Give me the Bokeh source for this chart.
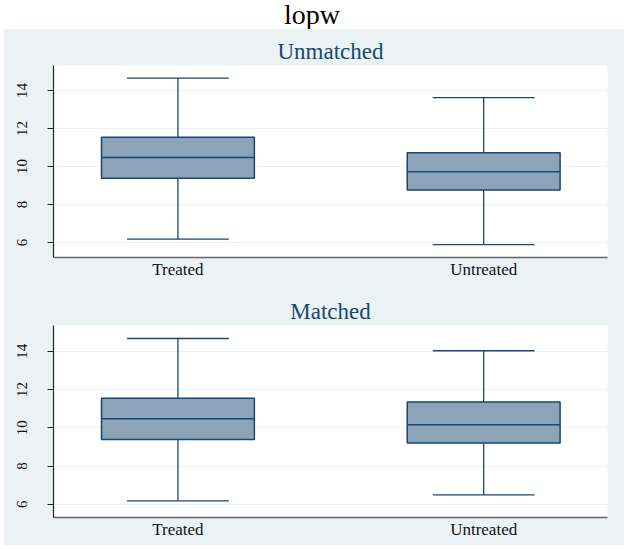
from bokeh.plotting import figure
from bokeh.layouts import column
from bokeh.models import Div, FixedTicker, Range1d, ColumnDataSource
from bokeh.embed import file_html
from bokeh.resources import INLINE

# Box-plot summaries of lopw by treatment group
groups = ["Treated", "Untreated"]
group_pos = [1, 2]

unmatched_upper = [14.66, 13.63]
unmatched_q3 = [11.54, 10.72]
unmatched_median = [10.47, 9.72]
unmatched_q1 = [9.38, 8.77]
unmatched_lower = [6.18, 5.89]

matched_upper = [14.66, 14.02]
matched_q3 = [11.54, 11.34]
matched_median = [10.47, 10.16]
matched_q1 = [9.38, 9.20]
matched_lower = [6.18, 6.49]

y_ticks = [6, 8, 10, 12, 14]

BG = "#EAF2F3"
NAVY = "#1A476F"
BOX_FILL = "#8DA3B8"
SERIF = "Liberation Serif"
BOX_W = 0.5
CAP_W = 0.333


def box_panel(title, upper, q3, median, q1, lower, height, top, bottom, y_range):
    p = figure(width=620, height=height, output_backend="svg", toolbar_location=None,
               x_range=Range1d(0.593, 2.405), y_range=Range1d(*y_range),
               min_border_left=49, min_border_right=17,
               min_border_top=top, min_border_bottom=bottom,
               title=title)
    p.margin = (0, 0, 0, 0)
    p.background_fill_color = "white"
    p.border_fill_color = BG
    p.outline_line_color = None

    p.title.align = "center"
    p.title.text_font = SERIF
    p.title.text_font_size = "23px"
    p.title.text_font_style = "normal"
    p.title.text_color = NAVY
    p.title.standoff = 3

    src = ColumnDataSource(dict(
        x=group_pos,
        upper=upper, q3=q3, median=median, q1=q1, lower=lower,
        x0=[x - BOX_W / 2 for x in group_pos],
        x1=[x + BOX_W / 2 for x in group_pos],
        c0=[x - CAP_W / 2 for x in group_pos],
        c1=[x + CAP_W / 2 for x in group_pos],
    ))

    # whiskers
    p.segment(x0="x", y0="q3", x1="x", y1="upper", source=src, line_color=NAVY, line_width=1.3)
    p.segment(x0="x", y0="lower", x1="x", y1="q1", source=src, line_color=NAVY, line_width=1.3)
    # caps
    p.segment(x0="c0", y0="upper", x1="c1", y1="upper", source=src, line_color=NAVY, line_width=1.3)
    p.segment(x0="c0", y0="lower", x1="c1", y1="lower", source=src, line_color=NAVY, line_width=1.3)
    # boxes
    p.quad(left="x0", right="x1", bottom="q1", top="q3", source=src,
           fill_color=BOX_FILL, line_color=NAVY, line_width=1.5)
    # medians
    p.segment(x0="x0", y0="median", x1="x1", y1="median", source=src, line_color=NAVY, line_width=1.5)

    # y axis
    p.yaxis.ticker = FixedTicker(ticks=y_ticks)
    p.yaxis.major_label_orientation = "vertical"
    p.yaxis.major_label_text_font = SERIF
    p.yaxis.major_label_text_font_size = "15px"
    p.yaxis.major_label_text_color = "#111111"
    p.yaxis.major_label_standoff = 20
    p.yaxis.major_tick_out = 6
    p.yaxis.major_tick_in = 0
    p.yaxis.minor_tick_line_color = None
    p.yaxis.axis_line_color = "#222222"
    p.yaxis.major_tick_line_color = "#222222"
    p.yaxis.axis_line_width = 1.2

    # x axis
    p.xaxis.ticker = FixedTicker(ticks=group_pos)
    p.xaxis.major_label_overrides = {x: g for x, g in zip(group_pos, groups)}
    p.xaxis.major_label_text_font = SERIF
    p.xaxis.major_label_text_font_size = "17px"
    p.xaxis.major_label_text_color = "#111111"
    p.xaxis.major_label_standoff = 2
    p.xaxis.major_tick_out = 0
    p.xaxis.major_tick_in = 0
    p.xaxis.major_tick_line_color = None
    p.xaxis.minor_tick_line_color = None
    p.xaxis.axis_line_color = "#666666"
    p.xaxis.axis_line_width = 1.5

    p.xgrid.grid_line_color = None
    p.ygrid.grid_line_color = BG
    p.ygrid.grid_line_width = 1
    return p


header = Div(text="lopw", width=624, height=29,
             styles={"font-family": SERIF, "font-size": "28px", "text-align": "center",
                     "line-height": "29px", "width": "624px", "color": "#000000",
                     "background-color": "white"})
header.margin = (0, 0, 0, 0)

top = box_panel("Unmatched", unmatched_upper, unmatched_q3, unmatched_median,
                unmatched_q1, unmatched_lower, 259, 36, 31, (5.21, 15.32))
bottom = box_panel("Matched", matched_upper, matched_q3, matched_median,
                   matched_q1, matched_lower, 257, 37, 28, (5.31, 15.34))

# panels sit on a shared tinted backdrop
panels = column(top, bottom, spacing=0, width=620, height=516,
                styles={"background-color": BG})
panels.margin = (0, 0, 4, 4)

layout = column(header, panels, spacing=0)
layout.margin = (0, 0, 0, 0)

open("out.html", "w").write(file_html(layout, INLINE))
